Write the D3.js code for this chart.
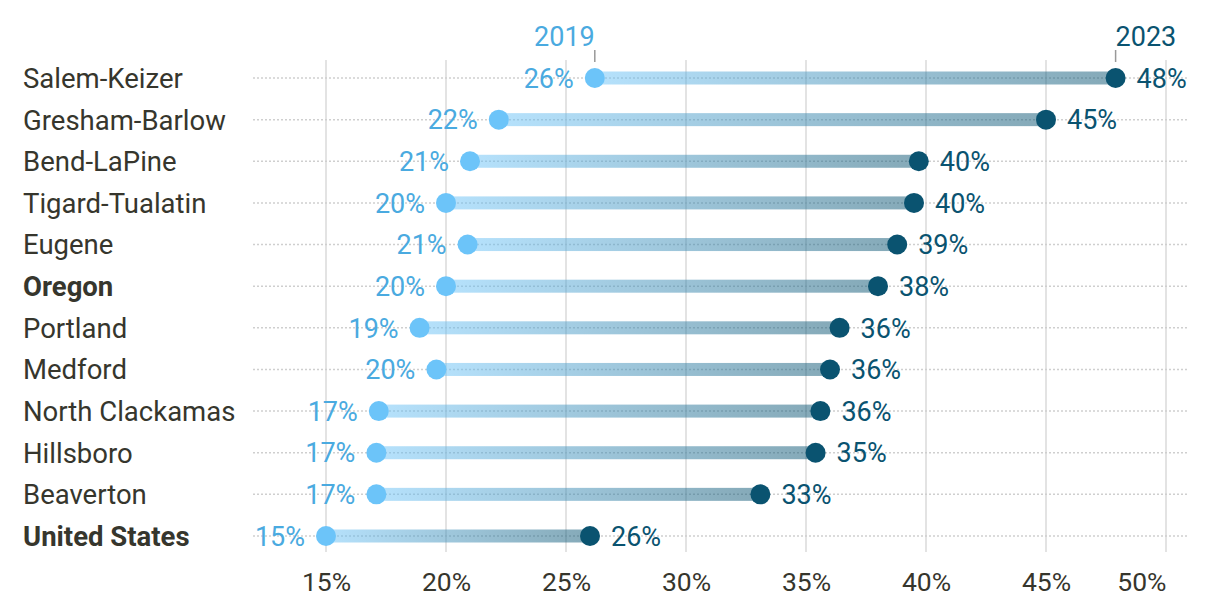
<!DOCTYPE html>
<html><head><meta charset="utf-8">
<script src="https://cdn.jsdelivr.net/npm/d3@7"></script>
<style>
html,body{margin:0;padding:0;background:#fff;}
svg{display:block;font-family:Roboto, "Noto Sans", sans-serif;}
</style></head>
<body>
<svg id="chart" width="1220" height="604"></svg>
<script>
const categories = ["Salem-Keizer","Gresham-Barlow","Bend-LaPine","Tigard-Tualatin","Eugene","Oregon","Portland","Medford","North Clackamas","Hillsboro","Beaverton","United States"];
const boldCategories = ["Oregon","United States"];
const values2019 = [26.2,22.2,21.0,20.0,20.9,20.0,18.9,19.6,17.2,17.1,17.1,15.0];
const values2023 = [47.9,45.0,39.7,39.5,38.8,38.0,36.4,36.0,35.6,35.4,33.1,26.0];
const labels2019 = ["26%","22%","21%","20%","21%","20%","19%","20%","17%","17%","17%","15%"];
const labels2023 = ["48%","45%","40%","40%","39%","38%","36%","36%","36%","35%","33%","26%"];
const tickValues = [15,20,25,30,35,40,45,50];
const seriesNames = ["2019","2023"];

const c2019 = "#6cc4f9", c2019text = "#4aaae0", c2023 = "#0a5370";
const textColor = "#36362d";

const svg = d3.select("#chart");
const x = d3.scaleLinear().domain([15,50]).range([326,1166]);
const y = d3.scalePoint().domain(categories).range([78,536]);

const defs = svg.append("defs");
const grad = defs.append("linearGradient").attr("id","barGrad")
  .attr("x1","0%").attr("x2","100%").attr("y1","0%").attr("y2","0%");
grad.append("stop").attr("offset","0%").attr("stop-color",c2019).attr("stop-opacity",0.5);
grad.append("stop").attr("offset","100%").attr("stop-color",c2023).attr("stop-opacity",0.5);

// vertical gridlines
svg.append("g").selectAll("line").data(tickValues).join("line")
  .attr("x1",d=>x(d)).attr("x2",d=>x(d)).attr("y1",60).attr("y2",552)
  .attr("stroke","#e3e3e3").attr("stroke-width",2);

// axis labels
const axis = d3.axisBottom(x).tickValues(tickValues).tickFormat(d=>d+"%").tickSize(0).tickPadding(0);
const ag = svg.append("g").attr("transform","translate(0,572)").call(axis);
ag.select(".domain").remove();
ag.selectAll("text").attr("font-size",26.5).attr("fill",textColor).attr("font-family","Roboto")
  .attr("dy","0.71em")
  .attr("text-anchor",(d,i)=> i===tickValues.length-1 ? "end" : "middle");

const data = categories.map((c,i)=>({c, v1:values2019[i], v2:values2023[i], l1:labels2019[i], l2:labels2023[i]}));

// dotted row lines
svg.append("g").selectAll("line").data(data).join("line")
  .attr("x1",253).attr("x2",1188).attr("y1",d=>y(d.c)).attr("y2",d=>y(d.c))
  .attr("stroke","#cfcfcf").attr("stroke-width",1.5).attr("stroke-dasharray","2,2");

// bars
svg.append("g").selectAll("rect").data(data).join("rect")
  .attr("x",d=>x(d.v1)).attr("width",d=>x(d.v2)-x(d.v1))
  .attr("y",d=>y(d.c)-6.5).attr("height",13)
  .attr("fill","url(#barGrad)");

// dots
svg.append("g").selectAll("circle").data(data).join("circle")
  .attr("cx",d=>x(d.v1)).attr("cy",d=>y(d.c)).attr("r",10).attr("fill",c2019);
svg.append("g").selectAll("circle").data(data).join("circle")
  .attr("cx",d=>x(d.v2)).attr("cy",d=>y(d.c)).attr("r",10).attr("fill",c2023);

// value labels
svg.append("g").selectAll("text").data(data).join("text")
  .attr("x",d=>x(d.v1)-21).attr("y",d=>y(d.c)).attr("dy","0.36em")
  .attr("text-anchor","end").attr("font-size",27).attr("fill",c2019text).text(d=>d.l1);
svg.append("g").selectAll("text").data(data).join("text")
  .attr("x",d=>x(d.v2)+21).attr("y",d=>y(d.c)).attr("dy","0.36em")
  .attr("text-anchor","start").attr("font-size",27).attr("fill",c2023).text(d=>d.l2);

// category labels
svg.append("g").selectAll("text").data(data).join("text")
  .attr("x",23).attr("y",d=>y(d.c)).attr("dy","0.36em")
  .attr("font-size",27.5).attr("fill",textColor)
  .attr("font-weight",d=>boldCategories.includes(d.c)?"bold":"normal").text(d=>d.c);

// series headers
const firstRow = data[0];
svg.append("line").attr("x1",x(firstRow.v1)).attr("x2",x(firstRow.v1)).attr("y1",50).attr("y2",62).attr("stroke","#999").attr("stroke-width",1.5);
svg.append("line").attr("x1",x(firstRow.v2)).attr("x2",x(firstRow.v2)).attr("y1",50).attr("y2",62).attr("stroke","#999").attr("stroke-width",1.5);
svg.append("text").attr("x",x(firstRow.v1)).attr("y",46).attr("text-anchor","end")
  .attr("font-size",27).attr("fill",c2019text).text(seriesNames[0]);
svg.append("text").attr("x",x(firstRow.v2)).attr("y",46).attr("text-anchor","start")
  .attr("font-size",27).attr("fill",c2023).text(seriesNames[1]);
</script>
</body></html>
